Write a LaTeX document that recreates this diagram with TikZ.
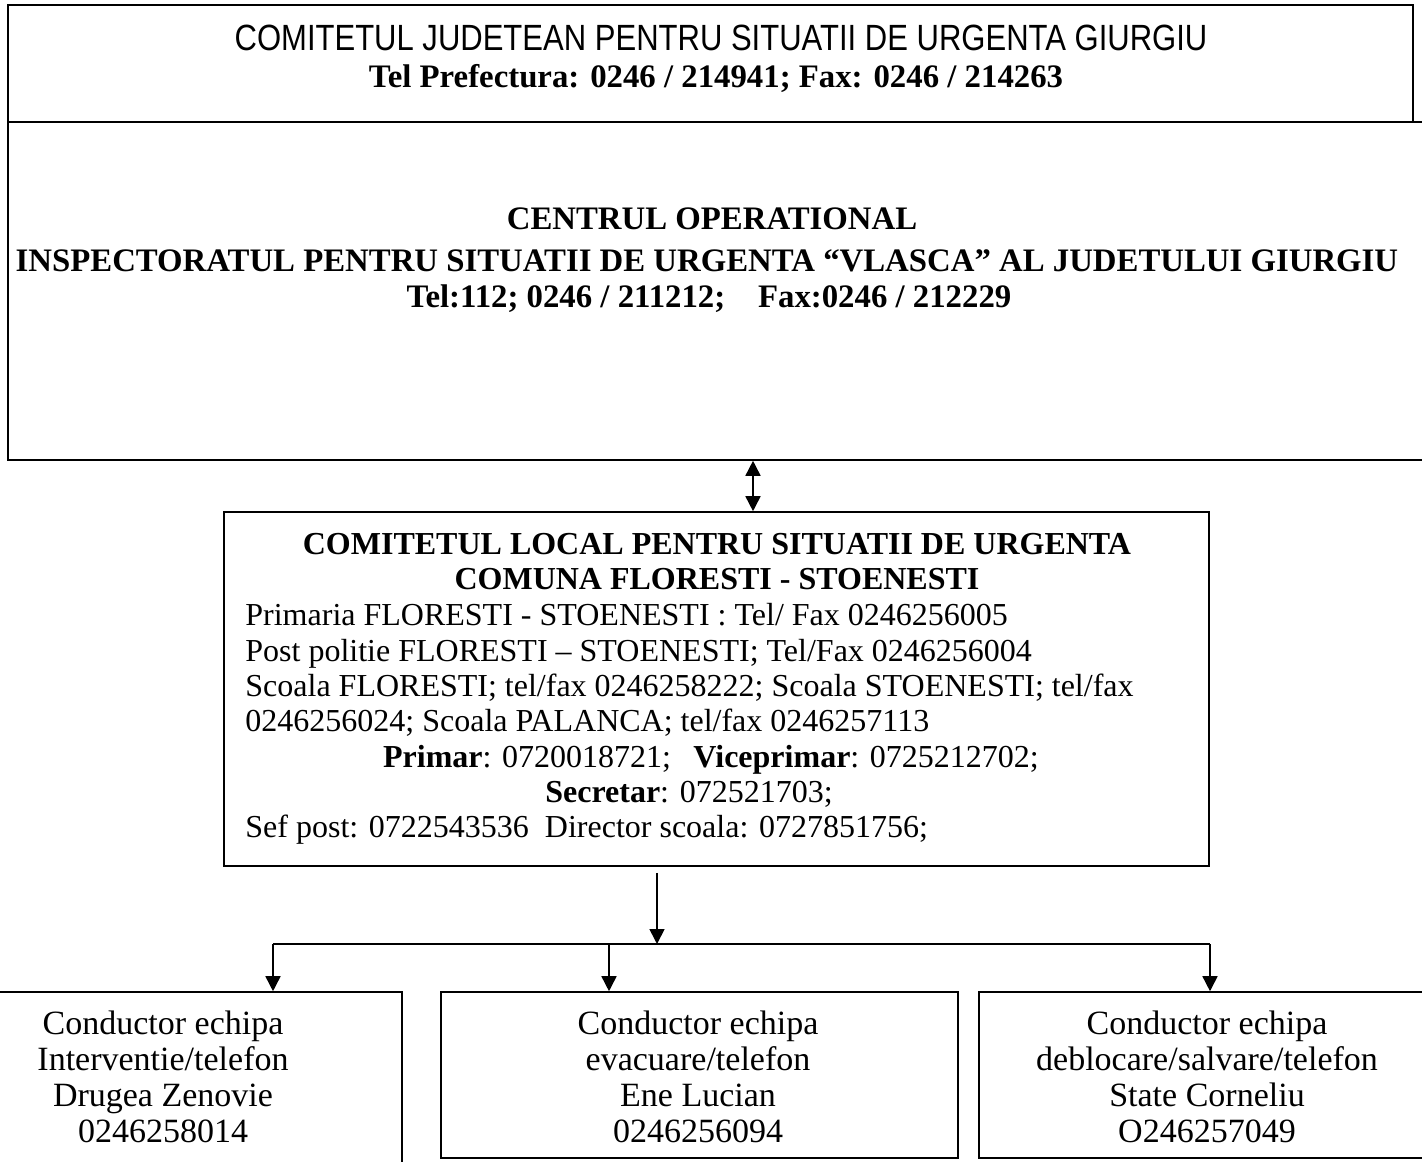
\documentclass[tikz,border=0pt]{standalone}
\usepackage{fontspec}
\setmainfont{Liberation Serif}
\newfontfamily\narrowsans[FakeStretch=0.85]{Liberation Sans}
\usetikzlibrary{arrows.meta}
\tikzset{
  box/.style={draw, line width=0.8pt, inner sep=0pt},
  txt/.style={inner sep=0pt, font=\fontsize{16}{18}\selectfont},
  btxt/.style={inner sep=0pt, font=\fontsize{17}{19}\selectfont},
  ttl/.style={inner sep=0pt, font=\fontsize{16}{18}\selectfont\bfseries},
  ttlb/.style={inner sep=0pt, font=\fontsize{16.4}{18}\selectfont\bfseries},
  sans/.style={inner sep=0pt, font=\fontsize{18.25}{20}\selectfont\narrowsans},
  arr/.style={line width=0.8pt, -{Triangle[width=7.5pt,length=7.5pt]}},
  darr/.style={line width=0.8pt, {Triangle[width=7.5pt,length=7.5pt]}-{Triangle[width=7.5pt,length=7.5pt]}},
  conn/.style={line width=0.8pt}
}
\begin{document}
\begin{tikzpicture}[x=0.5pt,y=-0.5pt]
\useasboundingbox (0,0) rectangle (1422,1161);
\clip (0,0) rectangle (1422,1161);
\fill[white] (0,0) rectangle (1422,1161);

% boxes
\node[box, minimum width=702.5pt, minimum height=58.5pt] (topA) at (710.5,63.5) {};
\node[box, minimum width=716pt, minimum height=169pt] (topB) at (724,291) {};
\node[box, minimum width=492.5pt, minimum height=177pt] (local) at (716.5,689) {};
\node[box, minimum width=239pt, minimum height=104pt] (b1) at (163,1096) {};
\node[box, minimum width=258.5pt, minimum height=83pt] (b2) at (699.5,1075) {};
\node[box, minimum width=228pt, minimum height=83pt] (b3) at (1207,1075) {};

% top texts
\node[sans, anchor=base] (tA1) at (721,51) {COMITETUL JUDETEAN PENTRU SITUATII DE URGENTA GIURGIU};
\node[ttlb, anchor=base] (tA2) at (716,88) {Tel Prefectura: 0246 / 214941; Fax: 0246 / 214263};

\node[ttlb, anchor=base] (tB1) at (712,229) {CENTRUL OPERATIONAL};
\node[ttlb, anchor=base] (tB2) at (707,271) {INSPECTORATUL PENTRU SITUATII DE URGENTA “VLASCA” AL JUDETULUI GIURGIU};
\node[ttlb, anchor=base] (tB3) at (709,307) {Tel:112; 0246 / 211212;\hspace{1em}Fax:0246 / 212229};

% local committee
\node[ttl, anchor=base] (l1) at (717,554) {COMITETUL LOCAL PENTRU SITUATII DE URGENTA};
\node[ttl, anchor=base] (l2) at (717,589.5) {COMUNA FLORESTI - STOENESTI};
\node[txt, anchor=base west] (l3) at (245,625) {Primaria FLORESTI - STOENESTI : Tel/ Fax 0246256005};
\node[txt, anchor=base west] (l4) at (245,661) {Post politie FLORESTI – STOENESTI; Tel/Fax 0246256004};
\node[txt, anchor=base west] (l5) at (245,696) {Scoala FLORESTI; tel/fax 0246258222; Scoala STOENESTI; tel/fax};
\node[txt, anchor=base west] (l6) at (245,731.5) {0246256024; Scoala PALANCA; tel/fax 0246257113};
\node[txt, anchor=base] (l7) at (711,767) {\textbf{Primar}: 0720018721;\hspace{0.7em}\textbf{Viceprimar}: 0725212702;};
\node[txt, anchor=base] (l8) at (689,802) {\textbf{Secretar}: 072521703;};
\node[txt, anchor=base west] (l9) at (245,837) {Sef post: 0722543536\hspace{0.5em}Director scoala: 0727851756;};

% bottom boxes texts
\node[btxt, anchor=base] (p1) at (163,1034) {Conductor echipa};
\node[btxt, anchor=base] (p2) at (163,1070) {Interventie/telefon};
\node[btxt, anchor=base] (p3) at (163,1106) {Drugea Zenovie};
\node[btxt, anchor=base] (p4) at (163,1142) {0246258014};

\node[btxt, anchor=base] (q1) at (698,1034) {Conductor echipa};
\node[btxt, anchor=base] (q2) at (698,1070) {evacuare/telefon};
\node[btxt, anchor=base] (q3) at (698,1106) {Ene Lucian};
\node[btxt, anchor=base] (q4) at (698,1142) {0246256094};

\node[btxt, anchor=base] (r1) at (1207,1034) {Conductor echipa};
\node[btxt, anchor=base] (r2) at (1207,1070) {deblocare/salvare/telefon};
\node[btxt, anchor=base] (r3) at (1207,1106) {State Corneliu};
\node[btxt, anchor=base] (r4) at (1207,1142) {O246257049};

% connectors
\coordinate (dx) at (753,0);
\draw[darr] (dx |- topB.south) -- (dx |- local.north);

\coordinate (j) at (657,944);
\coordinate (jL) at (273,944);
\coordinate (jM) at (609,944);
\coordinate (jR) at (1210,944);
\draw[arr] ([yshift=-3pt]j |- local.south) -- (j);
\draw[conn] (jL) -- (jR);
\draw[arr] (jL) -- (jL |- b1.north);
\draw[arr] (jM) -- (jM |- b2.north);
\draw[arr] (jR) -- (jR |- b3.north);
\end{tikzpicture}
\end{document}
